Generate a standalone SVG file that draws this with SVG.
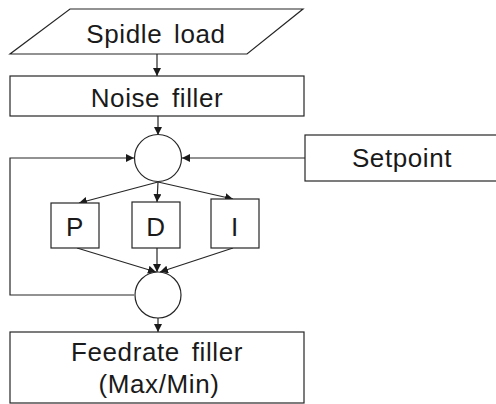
<svg xmlns="http://www.w3.org/2000/svg" width="496" height="404" viewBox="0 0 496 404">
<defs>
<style>
.s{fill:#fff;stroke:#262626;stroke-width:1.2}
.c{fill:none;stroke:#262626;stroke-width:1.2}
text{font-family:"Liberation Sans",Arial,sans-serif;font-size:26px;fill:#1a1a1a;text-anchor:middle;letter-spacing:0.6px;word-spacing:4px}
</style>
<marker id="a" viewBox="0 0 10 10" refX="10" refY="5" markerWidth="8" markerHeight="8" markerUnits="userSpaceOnUse" orient="auto">
<path d="M0,0 L10,5 L0,10 z" fill="#1a1a1a"/>
</marker>
</defs>
<g id="connectors">
<line class="c" x1="157" y1="54" x2="157" y2="76" marker-end="url(#a)"/>
<line class="c" x1="158" y1="116" x2="158" y2="135" marker-end="url(#a)"/>
<line class="c" x1="305" y1="158" x2="182" y2="158" marker-end="url(#a)"/>
<polyline class="c" points="134,295 10,295 10,158 134,158" marker-end="url(#a)"/>
<line class="c" x1="158" y1="182" x2="79" y2="203" marker-end="url(#a)"/>
<line class="c" x1="158" y1="182" x2="157" y2="202" marker-end="url(#a)"/>
<line class="c" x1="158" y1="182" x2="233" y2="199" marker-end="url(#a)"/>
<line class="c" x1="77" y1="248" x2="156" y2="272" marker-end="url(#a)"/>
<line class="c" x1="157" y1="248" x2="157" y2="272" marker-end="url(#a)"/>
<line class="c" x1="233" y1="248" x2="160" y2="272" marker-end="url(#a)"/>
<line class="c" x1="158" y1="318" x2="158" y2="332" marker-end="url(#a)"/>
</g>
<g id="spindle-load">
<polygon class="s" points="70,9 303,9 247,54 10,54"/>
<text x="156" y="43">Spidle load</text>
</g>
<g id="noise-filler">
<rect class="s" x="10" y="76" width="294" height="40"/>
<text x="157" y="107">Noise filler</text>
</g>
<g id="sum1">
<circle class="s" cx="158" cy="158" r="23.5"/>
</g>
<g id="setpoint">
<rect class="s" x="305" y="135" width="195" height="46"/>
<text x="402" y="167">Setpoint</text>
</g>
<g id="p">
<rect class="s" x="51" y="203" width="48" height="45"/>
<text x="75" y="236">P</text>
</g>
<g id="d">
<rect class="s" x="132" y="202" width="48" height="46"/>
<text x="156" y="236">D</text>
</g>
<g id="i">
<rect class="s" x="211" y="199" width="48" height="49"/>
<text x="235" y="236">I</text>
</g>
<g id="sum2">
<circle class="s" cx="158" cy="295" r="23"/>
</g>
<g id="feedrate-filler">
<rect class="s" x="10" y="332" width="294" height="71"/>
<text x="157" y="361">Feedrate filler</text>
<text x="159" y="393">(Max/Min)</text>
</g>
</svg>
